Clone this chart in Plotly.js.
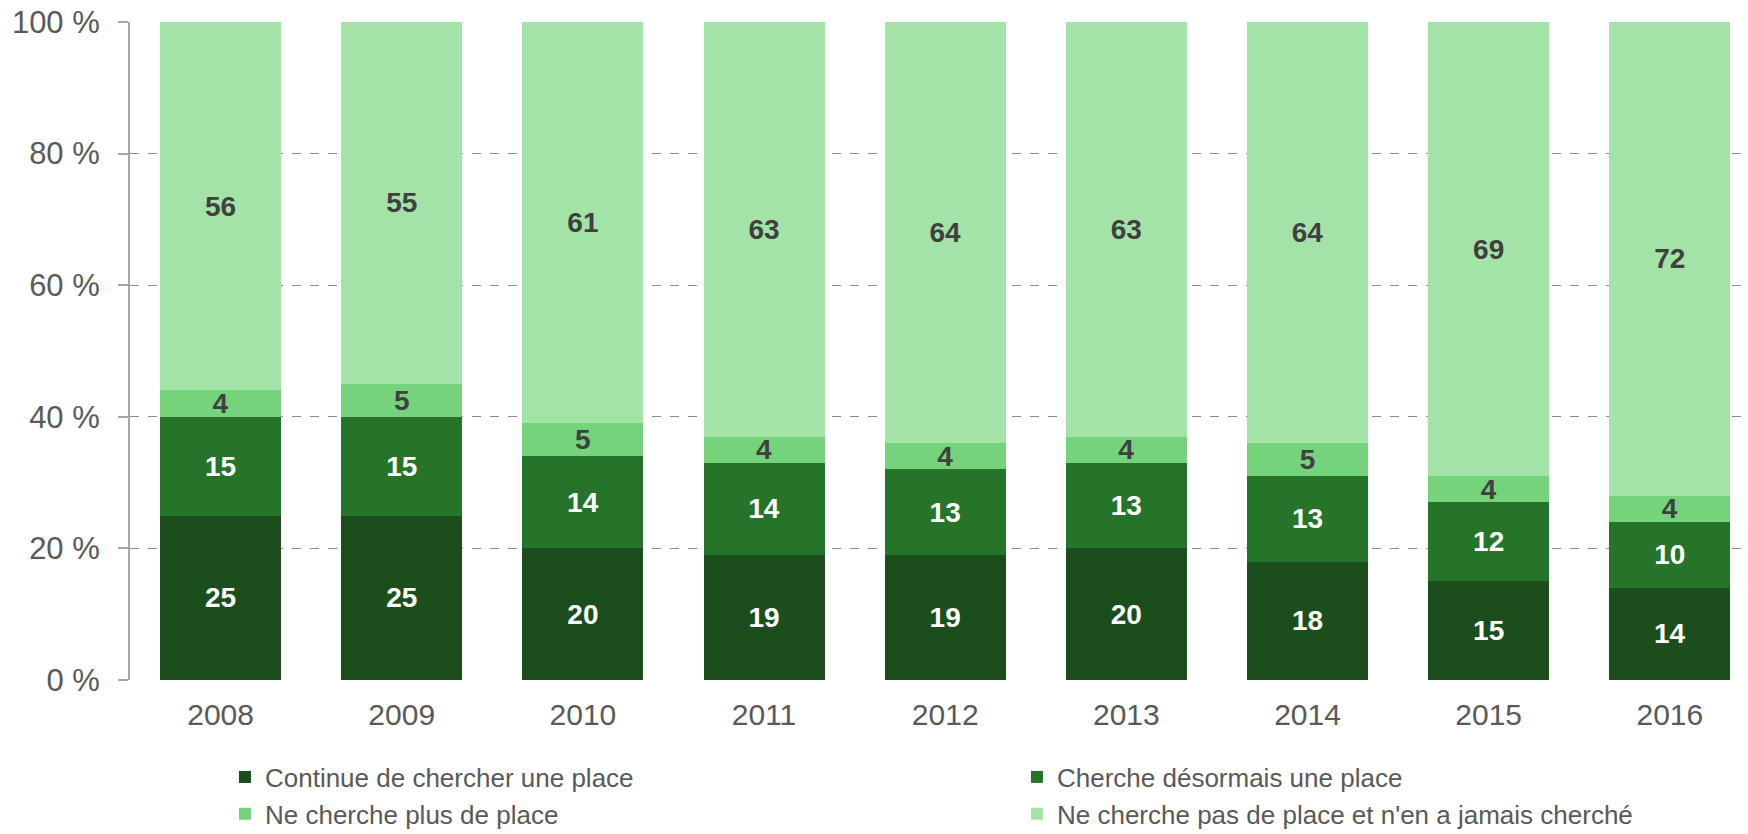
<!DOCTYPE html>
<html>
<head>
<meta charset="utf-8">
<script src="https://cdn.plot.ly/plotly-3.0.1.min.js"></script>
<style>html,body{margin:0;padding:0;background:#fff;}#chart{width:1748px;height:834px;}</style>
</head>
<body>
<div id="chart"></div>
<script>
const years = ["2008","2009","2010","2011","2012","2013","2014","2015","2016"];
const continueChercher = [25,25,20,19,19,20,18,15,14];
const chercheDesormais = [15,15,14,14,13,13,13,12,10];
const neCherchePlus = [4,5,5,4,4,4,5,4,4];
const jamaisCherche = [56,55,61,63,64,63,64,69,72];
const seriesNames = ["Continue de chercher une place","Cherche désormais une place","Ne cherche plus de place","Ne cherche pas de place et n'en a jamais cherché"];
const yTicks = [0,20,40,60,80,100];

const colors = ["#1b4e1c","#257429","#75d47b","#a4e3a8"];
const labelColors = ["#ffffff","#ffffff","#404040","#404040"];
const allSeries = [continueChercher, chercheDesormais, neCherchePlus, jamaisCherche];

const traces = allSeries.map((vals, i) => ({
  type: "bar",
  name: seriesNames[i],
  x: years,
  y: vals,
  text: vals.map(String),
  textposition: "inside",
  insidetextanchor: "middle",
  constraintext: "none",
  textangle: 0,
  textfont: {family: "Liberation Sans, Arial, sans-serif", size: 28, color: labelColors[i], weight: "bold"},
  marker: {color: colors[i], line: {width: 0}},
  hoverinfo: "x+y+name"
}));

const layout = {
  width: 1748, height: 834,
  margin: {l: 130, r: 3, t: 22, b: 154, pad: 0, autoexpand: false},
  barmode: "stack",
  bargap: 0.332,
  paper_bgcolor: "#ffffff",
  plot_bgcolor: "#ffffff",
  font: {family: "Liberation Sans, Arial, sans-serif", color: "#595959"},
  showlegend: true,
  legend: {
    orientation: "h",
    xref: "container", yref: "container",
    x: 0.1287, xanchor: "left",
    y: 0.0965, yanchor: "top",
    traceorder: "normal",
    entrywidth: 747,
    borderwidth: 0,
    font: {size: 26, color: "#595959"},
    itemclick: false, itemdoubleclick: false
  },
  xaxis: {
    type: "category",
    range: [-0.5, 8.415],
    showgrid: false,
    showline: false,
    zeroline: false,
    ticks: "",
    ticklabelstandoff: 14,
    tickfont: {size: 30, color: "#595959"}
  },
  yaxis: {
    range: [0, 100],
    tickvals: yTicks,
    ticktext: yTicks.map(v => v + " %"),
    showgrid: true,
    gridcolor: "#8c8c8c",
    griddash: "dash",
    gridwidth: 1,
    zeroline: false,
    showline: true,
    linecolor: "#a6a6a6",
    linewidth: 2,
    ticks: "outside",
    ticklen: 10,
    tickcolor: "#a6a6a6",
    tickwidth: 2,
    ticklabelstandoff: 12,
    tickfont: {size: 31, color: "#595959"}
  }
};

Plotly.newPlot("chart", traces, layout, {displayModeBar: false, staticPlot: true});
</script>
</body>
</html>
